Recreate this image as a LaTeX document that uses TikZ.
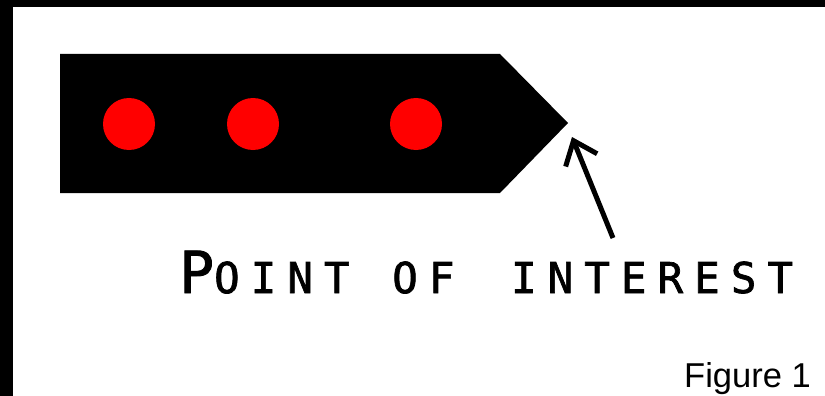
\documentclass[tikz,border=0pt]{standalone}
\usepackage{fontspec}
\setmainfont{Liberation Sans}
\newfontfamily\labelfont[LetterSpace=26, FakeBold=1.6]{DejaVu Sans Mono}
\usetikzlibrary{arrows.meta}

\begin{document}
\begin{tikzpicture}[
    x=1pt, y=-1pt,
    lamp/.style={circle, fill=red, minimum size=52pt, inner sep=0pt},
    pointer/.style={-{Straight Barb[length=21pt, width=34pt, line width=5pt]}, line width=5pt},
    caption/.style={font=\fontsize{34.5}{36}\selectfont, inner sep=0pt}
]
    % frame
    \fill[white] (0,0) rectangle (825,396);
    \fill[black] (0,0) rectangle (825,7);
    \fill[black] (0,0) rectangle (13,396);
    \useasboundingbox (0,0) rectangle (825,396);

    % signal body
    \fill[black] (60,54) -- (500,54) -- (568,123) -- (500,193) -- (60,193) -- cycle;
    \foreach \cx/\name in {129/one, 253/two, 416/three}
        \node[lamp] (lamp-\name) at (\cx,124) {};

    % label and arrow
    \node[anchor=base west, inner sep=0pt] (poi) at (179,293)
        {\labelfont{\fontsize{58}{60}\selectfont\addfontfeature{LetterSpace=4}P}{\fontsize{42.5}{44}\selectfont OINT\hspace{6pt} OF\hspace{20pt} INTEREST}};
    \coordinate (tail) at (613,238);
    \coordinate (tip) at (572,137);
    \draw[pointer] (tail) -- (tip);

    \node[caption, anchor=base east] (fig) at (811,387) {Figure 1};
\end{tikzpicture}
\end{document}
